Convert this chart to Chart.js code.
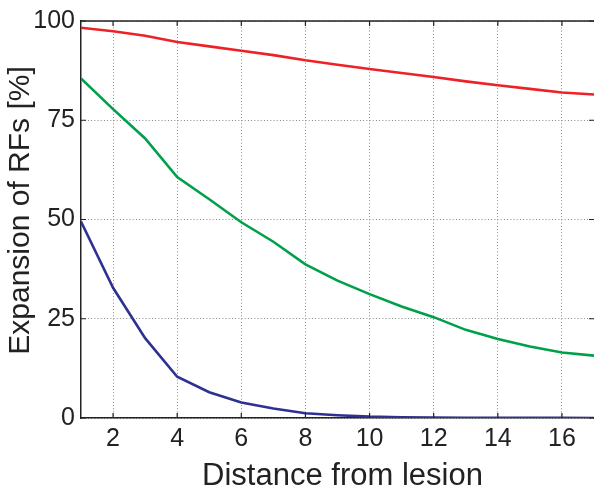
<!DOCTYPE html>
<html>
<head>
<meta charset="utf-8">
<script src="https://cdn.jsdelivr.net/npm/chart.js@4/dist/chart.umd.min.js"></script>
<style>
  html, body { margin: 0; padding: 0; background: #fff; }
  #wrap { width: 594px; height: 489px; position: relative; }
</style>
</head>
<body>
<div id="wrap"><canvas id="c" width="594" height="489"></canvas></div>
<script>
const distances = [1, 2, 3, 4, 5, 6, 7, 8, 9, 10, 11, 12, 13, 14, 15, 16, 17];
const redSeries   = [98.3, 97.4, 96.3, 94.7, 93.6, 92.5, 91.4, 90.1, 89.0, 87.9, 86.9, 85.9, 84.8, 83.8, 82.9, 82.0, 81.5];
const greenSeries = [85.5, 77.8, 70.4, 60.7, 55.1, 49.3, 44.4, 38.7, 34.6, 31.2, 28.1, 25.4, 22.2, 19.9, 18.0, 16.5, 15.7];
const blueSeries  = [49.5, 32.8, 20.1, 10.4, 6.5, 3.9, 2.4, 1.2, 0.7, 0.35, 0.2, 0.12, 0.08, 0.05, 0.03, 0.02, 0.01];
const xTickValues = [2, 4, 6, 8, 10, 12, 14, 16];
const yTickValues = [0, 25, 50, 75, 100];
const xTitle = 'Distance from lesion';
const yTitle = 'Expansion of RFs [%]';

const toPts = arr => arr.map((v, i) => ({ x: distances[i], y: v }));

const framePlugin = {
  id: 'frame',
  afterDatasetsDraw(chart) {
    const { ctx, chartArea: a, scales } = chart;
    ctx.save();
    ctx.strokeStyle = '#222';
    ctx.lineWidth = 1.5;
    ctx.beginPath();
    ctx.moveTo(a.left, a.top);
    ctx.lineTo(a.right, a.top);
    ctx.stroke();
    ctx.lineWidth = 1.2;
    ctx.beginPath();
    xTickValues.forEach(v => {
      const px = scales.x.getPixelForValue(v);
      ctx.moveTo(px, a.bottom); ctx.lineTo(px, a.bottom - 5);
      ctx.moveTo(px, a.top); ctx.lineTo(px, a.top + 5);
    });
    yTickValues.forEach(v => {
      const py = scales.y.getPixelForValue(v);
      ctx.moveTo(a.left, py); ctx.lineTo(a.left + 5, py);
      ctx.moveTo(a.right, py); ctx.lineTo(a.right - 5, py);
    });
    ctx.stroke();
    ctx.restore();
  },
  afterDraw(chart) {
    const { ctx, chartArea: a } = chart;
    ctx.save();
    ctx.fillStyle = '#222';
    ctx.textAlign = 'center';
    ctx.textBaseline = 'alphabetic';
    // x axis title
    ctx.font = '31px "Liberation Sans"';
    ctx.fillText(xTitle, (a.left + a.right) / 2 + 5, 485);
    // y axis title
    ctx.font = '30px "Liberation Sans"';
    ctx.translate(29, (a.top + a.bottom) / 2 - 9);
    ctx.rotate(-Math.PI / 2);
    ctx.fillText(yTitle, 0, 0);
    ctx.restore();
  }
};

const mk = (data, color) => ({
  data: toPts(data),
  borderColor: color,
  borderWidth: 2.6,
  pointRadius: 0,
  tension: 0,
  fill: false
});

new Chart(document.getElementById('c'), {
  type: 'line',
  data: {
    datasets: [
      mk(redSeries, '#ec2227'),
      mk(greenSeries, '#00a04b'),
      mk(blueSeries, '#2e3192')
    ]
  },
  options: {
    responsive: false,
    animation: false,
    layout: { padding: { top: 13, right: 0, left: 0, bottom: 0 } },
    plugins: { legend: { display: false }, tooltip: { enabled: false } },
    scales: {
      x: {
        type: 'linear',
        min: 1, max: 17,
        afterBuildTicks: s => { s.ticks = xTickValues.map(v => ({ value: v })); },
        afterFit: s => { s.height = 71; },
        grid: { color: '#8a8a8a', lineWidth: 1, drawTicks: false },
        border: { display: true, color: '#222', width: 1.5, dash: [1, 2.2] },
        ticks: { color: '#222', font: { family: 'Liberation Sans', size: 25 }, padding: 6, maxRotation: 0 },
        title: { display: false, text: xTitle }
      },
      y: {
        type: 'linear',
        min: 0, max: 100,
        afterBuildTicks: s => { s.ticks = yTickValues.map(v => ({ value: v })); },
        afterFit: s => { s.width = 81; },
        grid: { color: '#8a8a8a', lineWidth: 1, drawTicks: false },
        border: { display: true, color: '#222', width: 1.5, dash: [1, 2.2] },
        ticks: { color: '#222', font: { family: 'Liberation Sans', size: 25 }, padding: 6 },
        title: { display: false, text: yTitle }
      }
    }
  },
  plugins: [framePlugin]
});
</script>
</body>
</html>
